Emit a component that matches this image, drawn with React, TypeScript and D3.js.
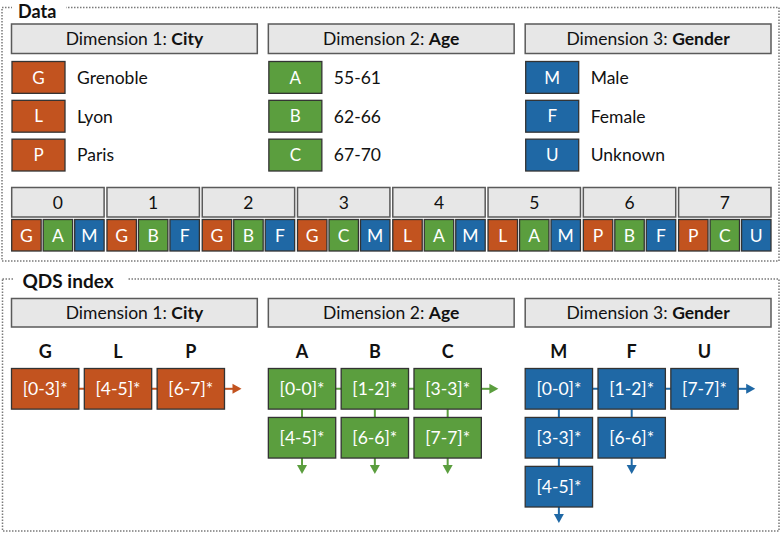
import React from "react";
import * as d3 from "d3";

// ---------- data ----------
const dimTitles = ["Dimension 1: ", "Dimension 2: ", "Dimension 3: "];
const dimNames = ["City", "Age", "Gender"];
const cityCodes = ["G", "L", "P"];
const cityLabels = ["Grenoble", "Lyon", "Paris"];
const ageCodes = ["A", "B", "C"];
const ageLabels = ["55-61", "62-66", "67-70"];
const genderCodes = ["M", "F", "U"];
const genderLabels = ["Male", "Female", "Unknown"];

const recordIds = ["0", "1", "2", "3", "4", "5", "6", "7"];
const recordCity = ["G", "G", "G", "G", "L", "L", "P", "P"];
const recordAge = ["A", "B", "B", "C", "A", "A", "B", "C"];
const recordGender = ["M", "F", "F", "M", "M", "M", "F", "U"];

const cityIndex = [["[0-3]*"], ["[4-5]*"], ["[6-7]*"]];
const ageIndex = [["[0-0]*", "[4-5]*"], ["[1-2]*", "[6-6]*"], ["[3-3]*", "[7-7]*"]];
const genderIndex = [["[0-0]*", "[3-3]*", "[4-5]*"], ["[1-2]*", "[6-6]*"], ["[7-7]*"]];
const cityDown = [false, false, false];
const ageDown = [true, true, true];
const genderDown = [true, true, false];

// ---------- styles ----------
const COLORS = ["#c2531f", "#5b9e3e", "#1f68a5"];
const FONT = "Lato, 'Open Sans', sans-serif";
const HEAD_FILL = "#e7e7e7";
const HEAD_STROKE = "#5a5a5a";
const BOX_STROKE = "#333333";

const W = 781;
const H = 533;

const dimCodes = [cityCodes, ageCodes, genderCodes];
const dimLabels = [cityLabels, ageLabels, genderLabels];
const dimIndex = [cityIndex, ageIndex, genderIndex];
const dimDown = [cityDown, ageDown, genderDown];
const recordValues = [recordCity, recordAge, recordGender];

function colorOf(code: string): string {
  for (let d = 0; d < 3; d++) if (dimCodes[d].includes(code)) return COLORS[d];
  return "#999";
}

// baseline for vertically centred text
const bl = (cy: number, fs: number) => cy + fs * 0.36;

export default function App() {
  const groupX = d3.scaleBand<number>().domain([0, 1, 2]).range([11.5, 771]).paddingInner(0.043);
  const legendY = d3.scaleBand<number>().domain([0, 1, 2]).range([61.5, 171]).paddingInner(0.18);
  const recX = d3.scaleBand<string>().domain(recordIds).range([11.7, 771]).paddingInner(0.03);
  const subX = d3.scaleBand<number>().domain([0, 1, 2]).range([0, recX.bandwidth()]).paddingInner(0.065);
  const colX = d3.scaleBand<number>().domain([0, 1, 2]).range([0, 213]).paddingInner(0.075);
  const rowY = d3.scaleBand<number>().domain([0, 1, 2]).range([368.5, 507]).paddingInner(0.17);

  const header = (x: number, y: number, w: number, h: number, a: string, b: string, key: string) => (
    <g key={key}>
      <rect x={x} y={y} width={w} height={h} fill={HEAD_FILL} stroke={HEAD_STROKE} strokeWidth={1.5} />
      <text x={x + w / 2} y={bl(y + h / 2, 17.5)} textAnchor="middle" fontSize={17.5} fill="#111">
        {a}
        <tspan fontWeight="bold">{b}</tspan>
      </text>
    </g>
  );

  const arrowRight = (x: number, y: number, len: number, color: string, key: string) => (
    <g key={key}>
      <line x1={x} y1={y} x2={x + len - 8} y2={y} stroke={color} strokeWidth={2} />
      <path d={`M${x + len - 9},${y - 5}L${x + len},${y}L${x + len - 9},${y + 5}Z`} fill={color} />
    </g>
  );
  const arrowDown = (x: number, y: number, len: number, color: string, key: string) => (
    <g key={key}>
      <line x1={x} y1={y} x2={x} y2={y + len - 8} stroke={color} strokeWidth={2} />
      <path d={`M${x - 5},${y + len - 9}L${x},${y + len}L${x + 5},${y + len - 9}Z`} fill={color} />
    </g>
  );

  return (
    <svg
      width={W}
      height={H}
      style={{ position: "absolute", left: 0, top: 0, background: "#fff" }}
      fontFamily={FONT}
    >
      {/* Data frame */}
      <rect x={2} y={7.5} width={777} height={253.5} fill="none" stroke="#7a7a7a" strokeWidth={1.5} strokeDasharray="1.5,1.5" />
      <rect x={12} y={0} width={54} height={18} fill="#fff" />
      <text x={18} y={17.8} fontSize={18} fontWeight="bold" fill="#111">Data</text>

      {/* QDS frame */}
      <rect x={2.5} y={279} width={776.5} height={252} fill="none" stroke="#7a7a7a" strokeWidth={1.5} strokeDasharray="1.5,1.5" />
      <rect x={13} y={268} width={114} height={20} fill="#fff" />
      <text x={22.5} y={287.5} fontSize={19} fontWeight="bold" fill="#111">QDS index</text>

      {/* Data dims */}
      {[0, 1, 2].map((d) => {
        const gx = groupX(d)!;
        return (
          <g key={"dd" + d}>
            {header(gx, 24, groupX.bandwidth(), 29.5, dimTitles[d], dimNames[d], "h" + d)}
            {dimCodes[d].map((c, i) => {
              const y = legendY(i)!;
              const cy = y + legendY.bandwidth() / 2;
              return (
                <g key={c}>
                  <rect x={gx + 0.5} y={y} width={53} height={legendY.bandwidth()} fill={COLORS[d]} stroke={BOX_STROKE} strokeWidth={1.3} />
                  <text x={gx + 27} y={bl(cy, 17)} textAnchor="middle" fontSize={17} fill="#fff">
                    {c}
                  </text>
                  <text x={gx + 65.5} y={bl(cy, 17.5)} fontSize={17.5} fill="#111">
                    {dimLabels[d][i]}
                  </text>
                </g>
              );
            })}
          </g>
        );
      })}

      {/* Records */}
      {recordIds.map((id, r) => {
        const x = recX(id)!;
        return (
          <g key={"r" + id}>
            <rect x={x} y={187.5} width={recX.bandwidth()} height={29.5} fill={HEAD_FILL} stroke={HEAD_STROKE} strokeWidth={1.5} />
            <text x={x + recX.bandwidth() / 2} y={bl(202.5, 17.5)} textAnchor="middle" fontSize={17.5} fill="#111">
              {id}
            </text>
            {[0, 1, 2].map((d) => {
              const code = recordValues[d][r];
              const sx = x + subX(d)!;
              return (
                <g key={d}>
                  <rect x={sx} y={219.5} width={subX.bandwidth()} height={31.5} fill={colorOf(code)} stroke={BOX_STROKE} strokeWidth={1.3} />
                  <text x={sx + subX.bandwidth() / 2} y={bl(235.5, 17.5)} textAnchor="middle" fontSize={17.5} fill="#fff">
                    {code}
                  </text>
                </g>
              );
            })}
          </g>
        );
      })}

      {/* QDS dims */}
      {[0, 1, 2].map((d) => {
        const gx = groupX(d)!;
        const color = COLORS[d];
        const cols = dimIndex[d];
        const bw = colX.bandwidth();
        const bh = rowY.bandwidth();
        const lastCol = cols.length - 1;
        const r0c = rowY(0)! + bh / 2;
        return (
          <g key={"q" + d}>
            {header(gx, 298.5, groupX.bandwidth(), 28.5, dimTitles[d], dimNames[d], "qh" + d)}
            <line x1={gx + colX(0)! + bw / 2} y1={r0c} x2={gx + colX(lastCol)! + bw} y2={r0c} stroke={color} strokeWidth={2} />
            {arrowRight(gx + colX(lastCol)! + bw, r0c, 17, color, "ar")}
            {cols.map((cells, c) => {
              const cx = gx + colX(c)!;
              const mid = cx + bw / 2;
              const lastRow = cells.length - 1;
              return (
                <g key={c}>
                  <text x={mid} y={bl(352, 18)} textAnchor="middle" fontSize={18} fontWeight="bold" fill="#111">
                    {dimCodes[d][c]}
                  </text>
                  {lastRow > 0 && (
                    <line x1={mid} y1={rowY(0)! + bh} x2={mid} y2={rowY(lastRow)!} stroke={color} strokeWidth={2} />
                  )}
                  {dimDown[d][c] && arrowDown(mid, rowY(lastRow)! + bh, 16, color, "ad")}
                  {cells.map((t, r) => (
                    <g key={r}>
                      <rect x={cx} y={rowY(r)!} width={bw} height={bh} fill={color} stroke={BOX_STROKE} strokeWidth={1.3} />
                      <text x={mid} y={bl(rowY(r)! + bh / 2, 17.5)} textAnchor="middle" fontSize={17.5} fill="#fff">
                        {t}
                      </text>
                    </g>
                  ))}
                </g>
              );
            })}
          </g>
        );
      })}
    </svg>
  );
}
